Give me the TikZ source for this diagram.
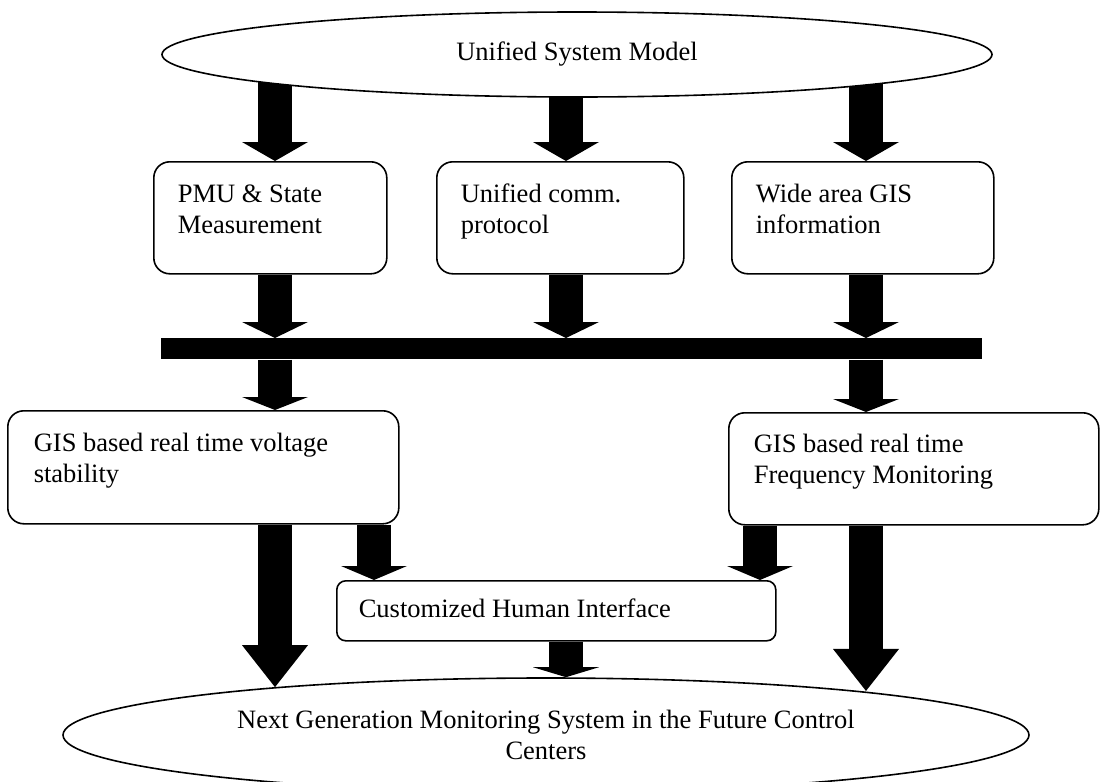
\documentclass[tikz,border=0pt]{standalone}
\usepackage{fontspec}
\setmainfont{Liberation Serif}
\usetikzlibrary{arrows.meta,shapes.geometric,backgrounds}

\tikzset{
  blk/.style={line width=17pt,-{Triangle[width=33pt,length=#1,line width=0pt]}},
  blk/.default=8pt,
  infobox/.style={draw,line width=0.8pt,rounded corners=8pt,fill=white,
    anchor=north west,align=flush left,inner ysep=0pt,inner xsep=12pt},
  oval/.style={draw,ellipse,line width=0.8pt,fill=white,inner sep=0pt,align=center}
}

\begin{document}
\begin{tikzpicture}[x=0.5pt,y=-0.5pt,font=\fontsize{13.25}{15.25}\selectfont]
\useasboundingbox (0,0) rectangle (1100,782);

\node[oval,minimum width=415pt,minimum height=42.5pt] (model) at (577,54.5) {Unified System Model};

\node[infobox,text width=92.5pt,text height=20.5pt,text depth=35.5pt] (pmu) at (153,161)
  {PMU \& State\\Measurement};
\node[infobox,text width=99.5pt,text height=20.5pt,text depth=35.5pt] (comm) at (436,161)
  {Unified comm.\\protocol};
\node[infobox,text width=107pt,text height=20.5pt,text depth=35.5pt] (gis) at (731,161)
  {Wide area GIS\\information};

\node[fill=black,inner sep=0pt,minimum width=410.5pt,minimum height=10.5pt,
  anchor=north west] (bar) at (161,338) {};

\node[infobox,inner xsep=13pt,text width=169.5pt,text height=20.5pt,text depth=36pt] (volt) at (7,410)
  {GIS based real time voltage\\stability};
\node[infobox,inner xsep=12.5pt,text width=160pt,text height=20pt,text depth=36pt] (freq) at (728,412)
  {GIS based real time\\Frequency Monitoring};

\node[infobox,rounded corners=4.5pt,inner xsep=11pt,text width=197.5pt,text height=18.5pt,
  text depth=11.5pt] (cust) at (336,580) {Customized Human Interface};

\node[oval,minimum width=483pt,minimum height=57pt] (nextgen) at (546,735)
  {Next Generation Monitoring System in the Future Control\\Centers};

% arrow columns
\coordinate (c1) at (275,0);
\coordinate (c2) at (566,0);
\coordinate (c3) at (866,0);
\coordinate (c4) at (374,0);
\coordinate (c5) at (760,0);

\begin{scope}[on background layer]
  % model to the three inputs
  \draw[blk=9.5pt] (c1 |- model.center) -- (c1 |- pmu.north);
  \draw[blk=9.5pt] (c2 |- model.center) -- (c2 |- comm.north);
  \draw[blk=9.5pt] (c3 |- model.center) -- (c3 |- gis.north);
  % inputs to the bus
  \draw[blk] (c1 |- pmu.south) -- (c1 |- bar.north);
  \draw[blk] (c2 |- comm.south) -- (c2 |- bar.north);
  \draw[blk] (c3 |- gis.south) -- (c3 |- bar.north);
  % bus to the applications
  \draw[blk=6.5pt] (c1 |- bar.south) -- (c1 |- volt.north);
  \draw[blk=6.5pt] (c3 |- bar.south) -- (c3 |- freq.north);
  % applications down
  \draw[blk=21pt] (c1 |- volt.south) -- (c1 |- nextgen.170);
  \draw[blk=21pt] (c3 |- freq.south) -- (c3 |- nextgen.8);
  \draw[blk=7pt] (c4 |- volt.south) -- (c4 |- cust.north);
  \draw[blk=7pt] (c5 |- freq.south) -- (c5 |- cust.north);
  \draw[blk=5pt] (c2 |- cust.south) -- (c2 |- nextgen.north);
\end{scope}
\end{tikzpicture}
\end{document}
